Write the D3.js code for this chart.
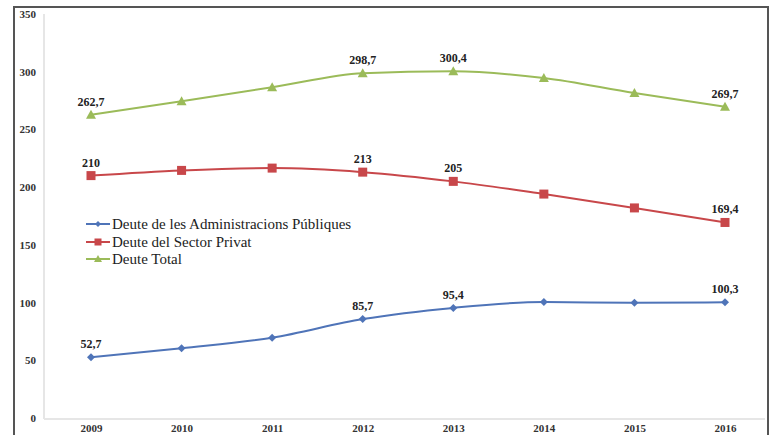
<!DOCTYPE html>
<html><head><meta charset="utf-8"><script src="https://cdn.jsdelivr.net/npm/d3@7"></script></head>
<body style="margin:0">
<svg id="c" width="771" height="435"></svg>
<script>
const years = ["2009","2010","2011","2012","2013","2014","2015","2016"];
const yTicks = [0,50,100,150,200,250,300,350];
const seriesNames = ["Deute de les Administracions Públiques","Deute del Sector Privat","Deute Total"];
const publicDebt = [52.7,60.5,69.5,85.7,95.4,100.5,99.8,100.3];
const privateDebt = [210,214.5,216.5,213,205,194,182,169.4];
const totalDebt = [262.7,274.5,286.5,298.7,300.4,294.5,281.5,269.7];
const publicLabels = ["52,7","","","85,7","95,4","","","100,3"];
const privateLabels = ["210","","","213","205","","","169,4"];
const totalLabels = ["262,7","","","298,7","300,4","","","269,7"];
const colors = ["#4f74b8","#c8474a","#9bbb59"];
const FONT = "Liberation Serif";

const svg = d3.select("#c");
svg.append("line").attr("x1",14).attr("x2",769).attr("y1",7).attr("y2",7).attr("stroke","#555").attr("stroke-width",2);
svg.append("line").attr("x1",14).attr("x2",14).attr("y1",6).attr("y2",435).attr("stroke","#555").attr("stroke-width",2);
svg.append("line").attr("x1",768).attr("x2",768).attr("y1",6).attr("y2",435).attr("stroke","#555").attr("stroke-width",2);

const x = d3.scalePoint().domain(years).range([91,725]);
const y = d3.scaleLinear().domain([0,350]).range([418,14]);

svg.append("line").attr("x1",44).attr("x2",44).attr("y1",14).attr("y2",419).attr("stroke","#e6e6e6").attr("stroke-width",2);
svg.append("line").attr("x1",44).attr("x2",765).attr("y1",419).attr("y2",419).attr("stroke","#e6e6e6").attr("stroke-width",2);

const gy = svg.append("g").attr("transform","translate(36,0)")
  .call(d3.axisLeft(y).tickValues(yTicks).tickSize(0).tickPadding(0));
gy.select(".domain").remove();
gy.attr("font-family",FONT).attr("font-size",11);
gy.selectAll("text").attr("font-family",FONT).attr("font-weight","bold").attr("font-size",11).attr("fill","#333");

const gx = svg.append("g").attr("transform","translate(0,424)")
  .call(d3.axisBottom(x).tickSize(0).tickPadding(0));
gx.select(".domain").remove();
gx.attr("font-family",FONT).attr("font-size",11);
gx.selectAll("text").attr("font-family",FONT).attr("font-weight","bold").attr("font-size",11).attr("fill","#333");

const data = [publicDebt, privateDebt, totalDebt];
const labels = [publicLabels, privateLabels, totalLabels];
const line = d3.line().x((d,i)=>x(years[i])).y(d=>y(d)).curve(d3.curveMonotoneX);

function marker(g, type, cx, cy, c, s){
  if(type===0){
    g.append("path").attr("d",`M${cx},${cy-s}L${cx+s},${cy}L${cx},${cy+s}L${cx-s},${cy}Z`).attr("fill",c);
  } else if(type===1){
    g.append("rect").attr("x",cx-s).attr("y",cy-s).attr("width",2*s).attr("height",2*s).attr("fill",c);
  } else {
    g.append("path").attr("d",`M${cx},${cy-s-1}L${cx+s+1},${cy+s}L${cx-s-1},${cy+s}Z`).attr("fill",c);
  }
}

data.forEach((vals,si)=>{
  const g = svg.append("g");
  g.append("path").attr("d",line(vals)).attr("fill","none").attr("stroke",colors[si]).attr("stroke-width",2);
  vals.forEach((v,i)=>{
    marker(g, si, x(years[i]), y(v), colors[si], si===1?4.5:4);
    if(labels[si][i]){
      g.append("text").attr("x",x(years[i])).attr("y",y(v)-9).attr("text-anchor","middle")
        .attr("font-family",FONT).attr("font-weight","bold").attr("font-size",12).attr("fill","#222")
        .text(labels[si][i]);
    }
  });
});

const legY = [224,242,259];
seriesNames.forEach((n,i)=>{
  const g = svg.append("g");
  g.append("line").attr("x1",86).attr("x2",110).attr("y1",legY[i]).attr("y2",legY[i]).attr("stroke",colors[i]).attr("stroke-width",2);
  marker(g, i, 98, legY[i], colors[i], i===1?3.5:3);
  g.append("text").attr("x",112).attr("y",legY[i]+5).attr("font-family",FONT).attr("font-size",15).attr("fill","#222").text(n);
});
</script></body></html>
